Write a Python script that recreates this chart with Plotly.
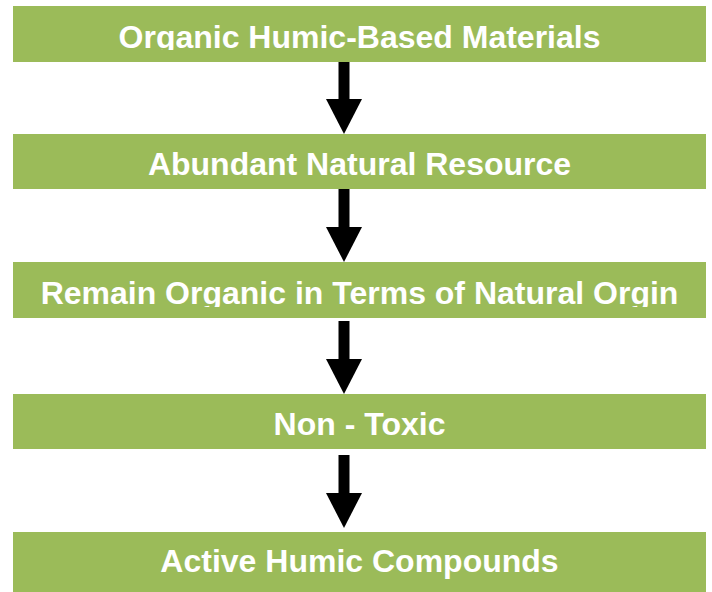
import plotly.graph_objects as go

# ---- content ----
steps = [
    "Organic Humic-Based Materials",
    "Abundant Natural Resource",
    "Remain Organic in Terms of Natural Orgin",
    "Non - Toxic",
    "Active Humic Compounds",
]

# ---- layout geometry (pixel space) ----
W, H = 712, 592
box_left, box_right = 13, 706
box_top = [6, 134, 262, 394, 532]
box_bottom = [62, 189, 318, 449, 592]
text_clip = [50, None, 307, None, None]   # descenders clipped in the original
arrow_start = [62, 189, 321, 455]
arrow_end = [134, 262, 394, 528]
arrow_x = 344
shaft_w = 11
head_w = 36
head_h = 35

GREEN = "#9BBB59"

fig = go.Figure()

shapes = []
for t, b in zip(box_top, box_bottom):
    shapes.append(dict(type="rect", xref="x", yref="y", x0=box_left, x1=box_right,
                       y0=t, y1=b, fillcolor=GREEN, line=dict(width=0), layer="below"))

for s, e in zip(arrow_start, arrow_end):
    hs = e - head_h
    shapes.append(dict(type="rect", xref="x", yref="y",
                       x0=arrow_x - shaft_w / 2, x1=arrow_x + shaft_w / 2,
                       y0=s, y1=hs + 1, fillcolor="black", line=dict(width=0), layer="below"))
    path = (f"M {arrow_x - head_w / 2} {hs} L {arrow_x + head_w / 2} {hs} "
            f"L {arrow_x} {e} Z")
    shapes.append(dict(type="path", xref="x", yref="y", path=path,
                       fillcolor="black", line=dict(width=0), layer="below"))

# cover strips imitating the clipped descenders
for c, b in zip(text_clip, box_bottom):
    if c is not None:
        shapes.append(dict(type="rect", xref="x", yref="y", x0=box_left, x1=box_right,
                           y0=c, y1=b, fillcolor=GREEN, line=dict(width=0), layer="above"))

centers_y = [(t + b) / 2 + 5.5 for t, b in zip(box_top, box_bottom)]
centers_y[-1] = 563.5
fig.add_trace(go.Scatter(
    x=[(box_left + box_right) / 2] * len(steps), y=centers_y,
    mode="text", text=steps, textposition="middle center",
    textfont=dict(family="Liberation Sans, Arial, sans-serif", size=32,
                  color="white", weight="bold"),
    hoverinfo="skip", showlegend=False,
))

fig.update_layout(
    width=W, height=H, margin=dict(l=0, r=0, t=0, b=0),
    paper_bgcolor="white", plot_bgcolor="white",
    shapes=shapes, showlegend=False,
    xaxis=dict(range=[0, W], visible=False, fixedrange=True),
    yaxis=dict(range=[H, 0], visible=False, fixedrange=True),
)

fig.write_html("out.html", config={"displayModeBar": False},
               post_script="document.body.style.margin='0';document.body.style.overflow='hidden';")
